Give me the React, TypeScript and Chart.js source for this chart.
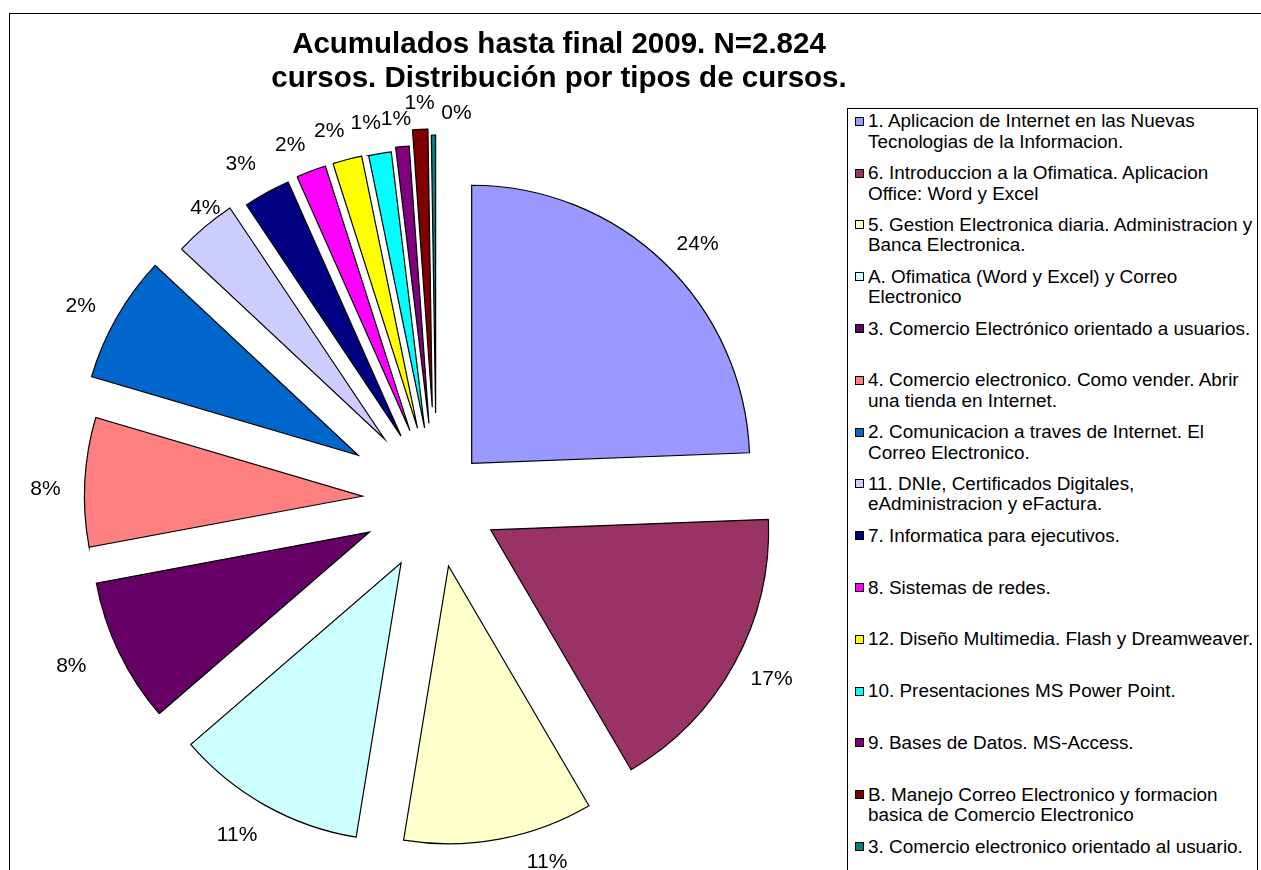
import React, { useEffect, useRef } from "react";
import { Chart, registerables } from "chart.js";

Chart.register(...registerables);

// ---------- data ----------
const titleLines = [
  "Acumulados hasta final 2009. N=2.824",
  "cursos. Distribución por tipos de cursos.",
];

const categories = [
  "1. Aplicacion de Internet en las Nuevas\nTecnologias de la Informacion.",
  "6. Introduccion a la Ofimatica. Aplicacion\nOffice: Word y Excel",
  "5. Gestion Electronica diaria. Administracion y\nBanca Electronica.",
  "A. Ofimatica (Word y Excel) y Correo\nElectronico",
  "3. Comercio Electrónico orientado a usuarios.",
  "4. Comercio electronico. Como vender. Abrir\nuna tienda en Internet.",
  "2. Comunicacion a traves de Internet. El\nCorreo Electronico.",
  "11. DNIe, Certificados Digitales,\neAdministracion y eFactura.",
  "7. Informatica para ejecutivos.",
  "8. Sistemas de redes.",
  "12. Diseño Multimedia. Flash y Dreamweaver.",
  "10. Presentaciones MS Power Point.",
  "9. Bases de Datos. MS-Access.",
  "B. Manejo Correo Electronico y formacion\nbasica de Comercio Electronico",
  "3. Comercio electronico orientado al usuario.",
];

const courses = [689, 485, 311, 313, 237, 212, 209, 103, 77, 49, 48, 37, 22, 25, 7];

const percentLabels = [
  "24%", "17%", "11%", "11%", "8%", "8%", "2%", "4%", "3%", "2%", "2%", "1%", "1%", "1%", "0%",
];

// ---------- styles ----------
const sliceColors = [
  "#9999FF", "#993366", "#FFFFCC", "#CCFFFF", "#660066", "#FF8080", "#0066CC", "#CCCCFF",
  "#000080", "#FF00FF", "#FFFF00", "#00FFFF", "#800080", "#800000", "#008080",
];
const explodeDist = [51, 62, 67, 72, 74, 74, 90, 80, 73, 74, 74, 73, 77, 93, 87];
const labelDist = [315, 318, 312, 318, 327, 317, 315, 292, 316, 310, 310, 310, 306, 304, 301];
const labelShiftDeg = [1.9, -0.8, -7.9, 1.8, 1.5, -1.6, -1.5, 2.5, -1.6, -1.9, -1.9, -1.7, -0.7, 0.1, 4.4];

const FONT = "'Liberation Sans', Arial, Helvetica, sans-serif";
const W = 1261;
const H = 870;
const PIE_CX = 436.3;
const PIE_CY = 500;
const PIE_R = 278;

const explodePlugin = {
  id: "explodeSlices",
  beforeDatasetsDraw(chart: any) {
    const meta = chart.getDatasetMeta(0);
    const ca = chart.chartArea;
    const cx = (ca.left + ca.right) / 2;
    const cy = (ca.top + ca.bottom) / 2;
    meta.data.forEach((el: any, i: number) => {
      const mid = (el.startAngle + el.endAngle) / 2;
      el.x = cx + explodeDist[i] * Math.cos(mid);
      el.y = cy + explodeDist[i] * Math.sin(mid);
    });
  },
  afterDatasetsDraw(chart: any) {
    const meta = chart.getDatasetMeta(0);
    const ctx = chart.ctx;
    ctx.save();
    ctx.font = `21px ${FONT}`;
    ctx.fillStyle = "#000";
    ctx.textAlign = "center";
    ctx.textBaseline = "middle";
    meta.data.forEach((el: any, i: number) => {
      const a = (el.startAngle + el.endAngle) / 2 + (labelShiftDeg[i] * Math.PI) / 180;
      const x = el.x + labelDist[i] * Math.cos(a);
      const y = el.y + labelDist[i] * Math.sin(a);
      ctx.fillText(percentLabels[i], x, y);
    });
    ctx.restore();
  },
};

function PieChart() {
  const ref = useRef<HTMLCanvasElement | null>(null);
  useEffect(() => {
    if (!ref.current) return;
    const chart = new Chart(ref.current, {
      type: "pie",
      data: {
        labels: categories,
        datasets: [
          {
            data: courses,
            backgroundColor: sliceColors,
            borderColor: "#000",
            borderWidth: 1.2,
            borderJoinStyle: "miter",
            radius: PIE_R,
            clip: false,
          } as any,
        ],
      },
      options: {
        responsive: false,
        animation: false,
        devicePixelRatio: 1,
        events: [],
        layout: {
          padding: { left: 0, right: W - 2 * PIE_CX, top: 2 * PIE_CY - H, bottom: 0 },
        },
        plugins: {
          legend: { display: false },
          title: { display: false },
          tooltip: { enabled: false },
        },
      },
      plugins: [explodePlugin],
    });
    return () => chart.destroy();
  }, []);
  return (
    <canvas
      ref={ref}
      width={W}
      height={H}
      style={{ position: "absolute", left: 0, top: 0, width: W, height: H }}
    />
  );
}

const LEG_LEFT = 847;
const LEG_TOP = 111.3;
const LEG_PITCH = 51.8;

export default function App() {
  return (
    <div
      style={{
        position: "fixed",
        left: 0,
        top: 0,
        width: W,
        height: H,
        overflow: "hidden",
        background: "#fff",
        fontFamily: FONT,
      }}
    >
      <div
        style={{
          position: "absolute",
          left: 9,
          top: 13,
          width: 1400,
          height: 1000,
          borderTop: "1px solid #000",
          borderLeft: "1px solid #000",
        }}
      />
      <PieChart />
      <div
        style={{
          position: "absolute",
          left: 159,
          top: 26,
          width: 800,
          textAlign: "center",
          fontWeight: "bold",
          fontSize: "29.5px",
          lineHeight: "34px",
          color: "#000",
          whiteSpace: "nowrap",
        }}
      >
        {titleLines.map((t, i) => (
          <div key={i}>{t}</div>
        ))}
      </div>
      <div
        style={{
          position: "absolute",
          left: LEG_LEFT,
          top: 108,
          width: 411,
          height: 900,
          border: "1px solid #000",
          boxSizing: "border-box",
          background: "#fff",
        }}
      />
      {categories.map((c, i) => {
        const top = LEG_TOP + LEG_PITCH * i;
        return (
          <React.Fragment key={i}>
            <div
              style={{
                position: "absolute",
                left: LEG_LEFT + 8,
                top: top + 5.5,
                width: 9,
                height: 9,
                boxSizing: "border-box",
                border: "1px solid #000",
                background: sliceColors[i],
              }}
            />
            <div
              style={{
                position: "absolute",
                left: LEG_LEFT + 21,
                top: top,
                fontSize: "18.9px",
                lineHeight: "20.5px",
                whiteSpace: "pre",
                color: "#000",
              }}
            >
              {c}
            </div>
          </React.Fragment>
        );
      })}
    </div>
  );
}
